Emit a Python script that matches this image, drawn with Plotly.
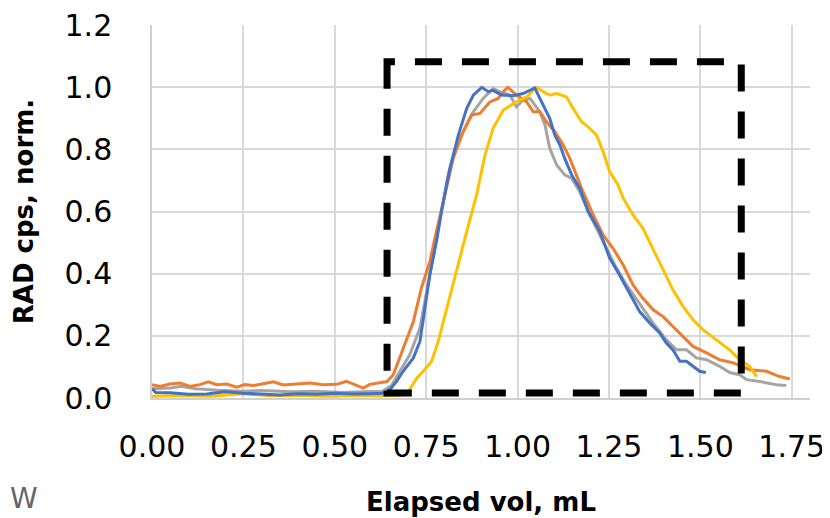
import plotly.graph_objects as go

# ---- data (elapsed volume in mL, normalised RAD cps) ----
blue_x = [0.000, 0.010, 0.050, 0.100, 0.150, 0.200, 0.250, 0.300, 0.350, 0.400, 0.450, 0.500,
          0.550, 0.600, 0.630, 0.651, 0.670, 0.687, 0.715, 0.733, 0.747, 0.760, 0.778, 0.792,
          0.815, 0.838, 0.861, 0.879, 0.902, 0.920, 0.933, 0.956, 0.988, 1.015, 1.047, 1.070,
          1.088, 1.102, 1.116, 1.129, 1.148, 1.170, 1.193, 1.225, 1.252, 1.279, 1.298, 1.334,
          1.362, 1.389, 1.407, 1.425, 1.444, 1.462, 1.480, 1.498, 1.515]
blue_y = [0.030, 0.018, 0.017, 0.012, 0.013, 0.020, 0.015, 0.013, 0.010, 0.014, 0.012, 0.015,
          0.013, 0.014, 0.015, 0.027, 0.055, 0.086, 0.129, 0.182, 0.289, 0.396, 0.503, 0.600,
          0.739, 0.846, 0.932, 0.975, 1.000, 0.986, 0.990, 0.975, 0.973, 0.980, 0.998, 0.943,
          0.900, 0.846, 0.814, 0.771, 0.718, 0.675, 0.600, 0.536, 0.450, 0.396, 0.354, 0.278,
          0.241, 0.209, 0.177, 0.155, 0.118, 0.118, 0.102, 0.086, 0.082]

orange_x = [0.000, 0.022, 0.049, 0.077, 0.104, 0.131, 0.154, 0.177, 0.204, 0.232, 0.254, 0.277,
            0.304, 0.332, 0.359, 0.396, 0.432, 0.468, 0.505, 0.532, 0.560, 0.578, 0.596, 0.623,
            0.643, 0.660, 0.687, 0.715, 0.737, 0.760, 0.778, 0.797, 0.824, 0.851, 0.874, 0.897,
            0.924, 0.947, 0.961, 0.973, 0.997, 1.025, 1.043, 1.061, 1.079, 1.102, 1.125, 1.143,
            1.161, 1.179, 1.207, 1.234, 1.261, 1.289, 1.316, 1.340, 1.371, 1.398, 1.425, 1.453,
            1.480, 1.517, 1.553, 1.590, 1.635, 1.681, 1.717, 1.745]
orange_y = [0.043, 0.037, 0.045, 0.048, 0.037, 0.043, 0.052, 0.043, 0.045, 0.035, 0.043, 0.040,
            0.046, 0.052, 0.042, 0.045, 0.048, 0.043, 0.044, 0.054, 0.042, 0.032, 0.044, 0.050,
            0.053, 0.075, 0.161, 0.246, 0.354, 0.439, 0.536, 0.632, 0.771, 0.857, 0.911, 0.916,
            0.953, 0.964, 0.986, 1.000, 0.975, 0.953, 0.921, 0.921, 0.889, 0.857, 0.814, 0.771,
            0.718, 0.664, 0.589, 0.525, 0.482, 0.428, 0.364, 0.325, 0.284, 0.262, 0.230, 0.198,
            0.166, 0.145, 0.123, 0.113, 0.091, 0.086, 0.069, 0.061]

gray_x = [0.000, 0.050, 0.080, 0.120, 0.180, 0.250, 0.300, 0.380, 0.450, 0.520, 0.580, 0.630,
          0.655, 0.678, 0.705, 0.733, 0.751, 0.769, 0.788, 0.810, 0.833, 0.861, 0.879, 0.906,
          0.933, 0.952, 0.979, 0.997, 1.015, 1.034, 1.061, 1.075, 1.088, 1.107, 1.129, 1.148,
          1.170, 1.198, 1.225, 1.243, 1.266, 1.298, 1.334, 1.371, 1.407, 1.435, 1.462, 1.489,
          1.517, 1.553, 1.580, 1.608, 1.626, 1.663, 1.708, 1.735]
gray_y = [0.030, 0.032, 0.038, 0.030, 0.025, 0.022, 0.024, 0.020, 0.022, 0.018, 0.020, 0.022,
          0.040, 0.086, 0.139, 0.225, 0.343, 0.461, 0.579, 0.718, 0.814, 0.879, 0.921, 0.964,
          0.996, 0.985, 0.975, 0.937, 0.959, 0.964, 0.921, 0.879, 0.804, 0.750, 0.718, 0.707,
          0.664, 0.589, 0.525, 0.482, 0.428, 0.364, 0.302, 0.241, 0.187, 0.155, 0.155, 0.129,
          0.123, 0.102, 0.082, 0.075, 0.059, 0.053, 0.043, 0.040]

yellow_x = [0.000, 0.080, 0.160, 0.250, 0.320, 0.400, 0.480, 0.560, 0.640, 0.690, 0.705, 0.724,
            0.742, 0.765, 0.783, 0.806, 0.833, 0.861, 0.888, 0.911, 0.933, 0.961, 0.997, 1.025,
            1.043, 1.052, 1.070, 1.088, 1.107, 1.134, 1.152, 1.175, 1.193, 1.216, 1.234, 1.252,
            1.275, 1.289, 1.316, 1.343, 1.362, 1.380, 1.407, 1.425, 1.453, 1.480, 1.507, 1.526,
            1.553, 1.580, 1.608, 1.635, 1.654]
yellow_y = [0.006, 0.008, 0.006, 0.014, 0.008, 0.009, 0.006, 0.008, 0.007, 0.010, 0.027, 0.064,
            0.086, 0.118, 0.182, 0.289, 0.407, 0.536, 0.654, 0.782, 0.868, 0.927, 0.953, 0.969,
            0.991, 1.000, 0.986, 0.975, 0.980, 0.969, 0.932, 0.889, 0.873, 0.846, 0.793, 0.728,
            0.686, 0.643, 0.589, 0.546, 0.500, 0.455, 0.391, 0.348, 0.294, 0.252, 0.220, 0.203,
            0.177, 0.155, 0.123, 0.102, 0.069]

# highlighted collection window (dashed box)
box_x = [0.643, 1.612]
box_y = [0.016, 1.082]

x_ticks = [0.00, 0.25, 0.50, 0.75, 1.00, 1.25, 1.50, 1.75]
y_ticks = [0.0, 0.2, 0.4, 0.6, 0.8, 1.0, 1.2]

FONT = "DejaVu Sans"

fig = go.Figure()
series = [
    (gray_x, gray_y, "#A5A5A5"),
    (orange_x, orange_y, "#ED7D31"),
    (yellow_x, yellow_y, "#FFC000"),
    (blue_x, blue_y, "#4472C4"),
]
for xs, ys, col in series:
    fig.add_trace(go.Scatter(x=xs, y=ys, mode="lines",
                             line=dict(color=col, width=3), showlegend=False,
                             hoverinfo="skip"))

fig.add_shape(type="path",
              path=f"M {box_x[0]},{box_y[1]} L {box_x[0]},{box_y[0]} L {box_x[1]},{box_y[0]} "
                   f"L {box_x[1]},{box_y[1]} Z",
              xref="x", yref="y",
              line=dict(color="black", width=7, dash="27px,20px"))

fig.add_annotation(text="W", xref="paper", yref="paper", x=-0.219, y=-0.319,
                   xanchor="left", yanchor="bottom", showarrow=False,
                   font=dict(family=FONT, size=28, color="#666666"))

fig.update_layout(
    width=822, height=510,
    margin=dict(l=144, r=20, t=17, b=120, autoexpand=False),
    paper_bgcolor="white", plot_bgcolor="white",
    font=dict(family=FONT, color="black"),
    xaxis=dict(range=[0, 1.8], tickvals=x_ticks, tickformat=".2f",
               showgrid=True, gridcolor="#D9D9D9", gridwidth=1.5,
               showline=True, linecolor="#D0D0D0", linewidth=1.5,
               zeroline=False, ticks="", ticklabelstandoff=21, automargin=False,
               ticklabeloverflow="allow",
               tickfont=dict(size=30, family=FONT, color="black"),
               title=dict(text="<b>Elapsed vol, mL</b>", standoff=30,
                          font=dict(size=26, family=FONT, color="black"))),
    yaxis=dict(range=[0, 1.2005], tickvals=y_ticks, tickformat=".1f",
               showgrid=True, gridcolor="#D9D9D9", gridwidth=1.5,
               showline=True, linecolor="#D0D0D0", linewidth=1.5,
               zeroline=False, ticks="", ticklabelstandoff=32, automargin=False,
               ticklabeloverflow="allow",
               tickfont=dict(size=30, family=FONT, color="black"),
               title=dict(text="<b>RAD cps, norm.</b>", standoff=23,
                          font=dict(size=26, family=FONT, color="black"))),
)

fig.write_html("out.html")
